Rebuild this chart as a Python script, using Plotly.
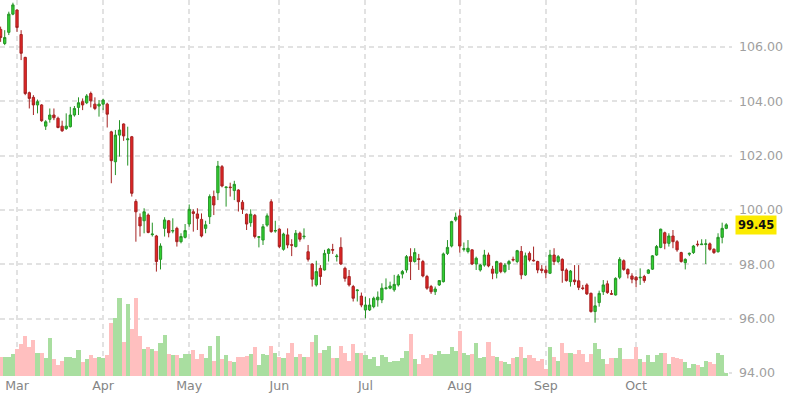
import plotly.graph_objects as go

# ---------------- data ----------------
opens = [106.64,106.12,106.53,107.20,107.35,106.45,105.61,104.31,104.14,103.86,
         103.86,103.08,103.33,103.49,103.37,103.08,102.99,103.06,103.49,103.77,
         103.98,103.94,104.28,103.89,103.82,103.89,103.89,102.87,101.77,102.75,
         103.16,102.58,102.69,100.31,99.73,99.60,99.81,99.09,99.04,98.18,
         99.32,99.60,99.22,99.32,98.83,98.99,99.48,99.93,99.85,99.65,
         99.32,99.75,100.49,100.63,101.59,100.82,100.84,100.71,100.73,100.28,
         99.84,99.53,99.80,98.99,98.89,99.44,100.30,99.22,99.29,98.55,
         99.08,98.72,98.65,99.14,99.01,98.46,98.01,97.24,97.85,97.79,
         98.40,98.54,98.28,98.62,97.85,97.55,97.18,97.03,96.83,96.32,
         96.32,96.44,96.69,96.69,97.11,97.12,97.06,97.24,97.64,97.79,
         98.28,98.10,98.20,98.10,97.55,97.18,96.99,97.24,97.36,98.40,
         98.67,99.63,99.78,98.55,98.47,98.53,98.01,97.79,97.97,98.34,
         97.82,97.67,98.04,97.73,98.01,98.18,98.10,98.47,97.61,98.40,
         98.15,98.10,97.82,97.79,97.67,98.34,98.10,98.18,97.79,97.36,
         97.42,97.39,97.13,97.24,96.93,96.26,96.59,96.99,97.28,96.92,
         96.87,97.52,98.13,97.81,97.57,97.52,97.50,97.55,97.67,97.82,
         98.34,98.62,99.16,98.77,99.04,98.83,98.43,98.06,98.37,98.43,
         98.74,98.72,98.73,98.75,98.55,98.46,98.99,99.32]
highs = [106.74,106.61,107.29,107.62,107.37,106.61,105.63,104.35,104.22,104.06,
         103.89,103.30,103.73,103.73,103.43,103.28,103.55,103.79,103.82,104.14,
         104.10,104.26,104.35,104.14,104.04,104.09,103.94,102.91,102.94,103.30,
         103.18,103.06,102.72,100.39,99.87,100.06,99.87,99.53,99.08,98.77,
         99.73,99.63,99.69,99.38,99.14,99.48,100.20,100.02,100.06,99.87,
         99.60,100.57,100.71,101.80,101.65,100.85,101.00,101.07,100.76,100.36,
         99.87,100.02,99.85,99.04,99.48,99.87,100.39,99.60,99.32,99.16,
         99.32,98.92,99.26,99.20,99.32,98.71,98.04,98.13,97.97,98.53,
         98.59,98.75,98.38,98.99,97.91,97.79,97.24,97.08,96.96,96.81,
         96.75,96.81,97.00,97.30,97.48,97.36,97.61,97.64,97.79,98.34,
         98.59,98.59,98.38,98.16,97.61,97.24,97.18,97.42,98.43,98.89,
         99.60,99.90,100.02,98.80,98.89,98.55,98.28,98.01,98.53,98.43,
         97.94,98.13,98.06,98.04,98.16,98.28,98.53,98.67,98.43,98.47,
         98.65,98.13,97.97,97.94,98.53,98.59,98.34,98.22,97.85,97.79,
         97.97,97.97,97.24,97.30,96.96,96.81,97.03,97.42,97.40,97.05,
         97.52,98.26,98.18,97.85,97.67,97.57,97.85,97.61,97.82,98.34,
         98.71,99.31,99.20,99.14,99.26,98.89,98.46,98.22,98.43,98.71,
         98.87,98.92,98.92,98.80,98.59,99.14,99.53,99.51]
lows = [106.18,106.06,106.43,107.16,106.55,105.51,104.22,103.73,103.49,103.55,
        103.24,102.94,103.21,103.30,103.00,102.87,102.94,103.03,103.43,103.49,
        103.67,103.89,103.77,103.67,103.43,103.67,103.03,100.98,101.28,101.96,
        102.54,101.63,100.49,98.83,99.02,99.14,99.14,99.02,97.73,97.81,
        99.02,98.99,99.14,98.65,98.77,98.95,99.38,99.20,99.26,98.99,
        99.14,99.48,99.81,100.36,100.83,100.12,100.49,100.36,99.94,99.85,
        99.26,99.38,98.95,98.62,98.71,99.38,99.16,99.16,98.59,98.50,
        98.59,98.30,98.62,98.83,98.92,98.10,97.18,97.18,97.24,97.77,
        98.10,98.38,98.10,97.97,97.36,97.18,96.63,96.63,96.42,96.01,
        96.28,96.38,96.44,96.57,97.06,97.08,96.99,97.18,97.48,97.69,
        97.42,98.06,97.79,97.52,97.06,96.91,96.87,97.20,97.33,98.34,
        98.62,99.57,98.43,98.47,98.40,97.97,97.79,97.73,97.91,97.89,
        97.45,97.48,97.67,97.67,97.79,98.10,98.04,97.45,97.57,98.10,
        98.10,97.67,97.67,97.48,97.64,97.97,98.04,97.32,97.36,97.18,
        97.24,97.05,97.05,96.87,96.22,95.85,96.44,96.87,96.91,96.87,
        96.85,97.45,97.76,97.48,97.30,97.15,97.24,97.32,97.64,97.79,
        98.31,98.59,98.55,98.65,98.59,98.46,98.06,97.81,98.30,98.38,
        98.65,98.71,98.01,98.50,98.38,98.43,98.77,99.29]
closes = [106.34,106.34,107.20,107.54,106.71,105.76,104.28,104.10,103.86,103.98,
          103.28,103.24,103.49,103.39,103.03,102.91,103.08,103.49,103.73,103.94,
          103.86,104.19,104.01,103.73,103.89,104.04,103.52,101.81,102.75,102.94,
          102.72,102.61,100.61,99.93,99.41,99.93,99.17,99.11,98.10,98.67,
          99.63,99.16,99.24,98.83,99.02,99.24,100.02,99.87,99.69,99.04,
          99.45,100.49,100.18,101.61,100.88,100.84,100.82,100.94,100.30,100.02,
          99.48,99.84,99.02,99.01,99.38,99.78,99.20,99.24,98.65,99.11,
          98.71,98.70,99.14,98.92,99.03,98.18,97.45,97.73,97.55,98.40,
          98.55,98.52,98.30,98.01,97.48,97.24,96.75,97.05,96.50,96.50,
          96.50,96.75,96.79,97.12,97.13,97.20,97.26,97.57,97.73,98.28,
          98.10,98.43,98.18,97.57,97.12,96.99,97.09,97.40,98.38,98.62,
          99.57,99.73,98.67,98.57,98.59,98.01,98.22,97.97,98.34,97.94,
          97.67,98.10,97.73,97.97,98.10,98.16,98.50,97.61,98.31,98.16,
          98.13,97.79,97.77,97.69,98.34,98.10,98.28,97.77,97.40,97.75,
          97.36,97.15,97.11,96.91,96.26,96.47,96.93,97.24,96.96,96.90,
          97.48,98.18,97.81,97.64,97.45,97.42,97.52,97.40,97.79,98.31,
          98.65,99.29,98.77,99.04,98.83,98.53,98.10,98.18,98.40,98.67,
          98.72,98.74,98.75,98.55,98.43,98.99,99.32,99.45]
volume = [1.9,1.9,1.9,2.2,2.7,3.2,4.0,2.9,3.6,2.3,
          2.3,1.8,3.8,1.7,1.1,1.5,1.9,1.9,1.8,2.6,
          1.4,1.7,2.1,1.8,1.9,1.8,2.1,5.3,5.8,7.8,
          3.4,7.2,4.7,7.8,4.0,2.7,2.9,2.7,2.5,3.3,
          4.1,2.2,2.1,2.1,1.8,2.2,2.2,2.6,1.7,2.2,
          1.8,3.0,1.5,4.0,1.7,2.1,1.5,1.4,1.9,1.9,
          2.0,2.2,2.9,1.1,2.2,2.1,3.0,2.3,1.9,1.8,
          2.3,3.3,1.9,2.2,1.9,1.9,3.4,4.1,2.3,2.6,
          3.0,1.8,1.8,3.0,2.3,1.5,3.2,2.3,2.3,2.1,
          1.7,1.9,1.0,2.1,1.9,1.4,1.5,1.5,1.8,2.5,
          4.2,1.7,1.2,2.1,1.8,2.2,2.1,2.5,2.2,2.2,
          2.9,2.5,4.5,2.3,2.1,2.2,3.3,1.8,1.9,3.4,
          2.0,1.9,1.5,1.4,1.2,1.8,1.9,2.9,1.8,2.1,
          1.8,1.5,1.7,0.7,2.9,1.9,1.5,3.3,2.3,2.3,
          2.2,2.6,2.2,1.4,2.2,3.3,2.7,1.7,1.2,1.8,
          1.8,2.8,1.7,1.7,1.7,2.9,1.7,1.4,2.1,1.4,
          2.1,2.3,2.3,1.2,1.9,1.8,1.7,1.4,0.8,1.2,
          1.1,0.9,1.5,1.4,1.2,2.3,2.1,0.3]
month_labels = ["Mar", "Apr", "May", "Jun", "Jul", "Aug", "Sep", "Oct"]
month_start_idx = [4, 25, 46, 68, 89, 112, 133, 155]
price_ticks = [94, 96, 98, 100, 102, 104, 106]

# ---------------- figure ----------------
idx = list(range(len(closes)))
up_green, dn_red = "#30d030", "#e52424"
vol_colors = ["#a9dea0" if c >= o else "#ffbfbf" for o, c in zip(opens, closes)]

fig = go.Figure()
fig.add_trace(go.Bar(
    x=idx, y=volume, yaxis="y2", marker=dict(color=vol_colors, line=dict(width=0)),
    hoverinfo="skip", showlegend=False))
fig.add_trace(go.Candlestick(
    x=idx, open=opens, high=highs, low=lows, close=closes,
    increasing=dict(fillcolor=up_green, line=dict(color="#269426", width=1)),
    decreasing=dict(fillcolor=dn_red, line=dict(color="#a52222", width=1)),
    whiskerwidth=0, hoverinfo="skip", showlegend=False))

grid = dict(showgrid=True, gridcolor="#e2e2e2", gridwidth=1.5, griddash="5px,4px",
            zeroline=False, showline=False)

fig.update_layout(
    width=789, height=398,
    margin=dict(l=0, r=57, t=0, b=22),
    paper_bgcolor="white", plot_bgcolor="white",
    font=dict(family="DejaVu Sans", size=12.6, color="#9c9c9c"),
    bargap=0, boxgap=0.2,
    xaxis=dict(**grid, range=[-0.15, 178.4], tickmode="array",
               tickvals=month_start_idx, ticktext=month_labels,
               tickfont=dict(color="#858585", size=12.6),
               rangeslider=dict(visible=False), ticks=""),
    yaxis=dict(**grid, side="right", range=[93.89, 107.72], tickmode="array",
               tickvals=price_ticks, tickformat=".2f",
               tickfont=dict(color="#a0a0a0", size=12.6), ticks="",
               ticklabelstandoff=6),
    yaxis2=dict(overlaying="y", range=[0, 37.6], visible=False, showgrid=False),
)

fig.add_annotation(
    x=1, xref="paper", xanchor="left", xshift=3,
    y=closes[-1], yref="y", yanchor="middle",
    text="<b>%.2f</b>" % closes[-1], showarrow=False,
    font=dict(family="DejaVu Sans", size=11.5, color="#111111"),
    bgcolor="#fbeb00", borderpad=2)

fig.write_html("out.html")
